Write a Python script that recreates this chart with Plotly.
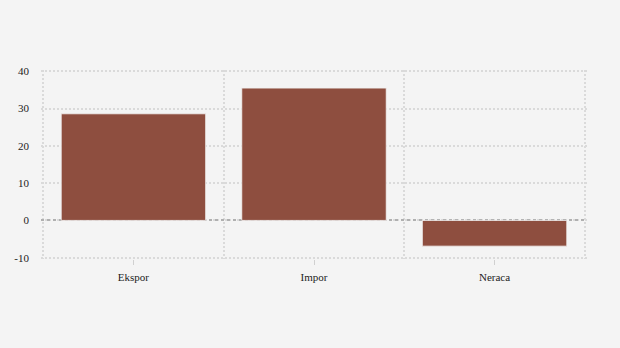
import plotly.graph_objects as go

categories = ["Ekspor", "Impor", "Neraca"]
values = [28.6, 35.5, -6.9]
y_ticks = [-10, 0, 10, 20, 30, 40]
y_tick_text = ["-10", "0", "10", "20", "30", "40"]

bar_color = "#8e4e3f"
grid_color = "#dadada"
font = dict(family="Liberation Serif", size=11, color="#222222")

fig = go.Figure()
fig.add_trace(go.Bar(
    x=categories, y=values,
    marker=dict(color=bar_color, line=dict(color="#f4f4f4", width=0.8)),
    width=0.8, showlegend=False, hoverinfo="x+y",
))
# helper trace for boundary gridlines and zero line axis
fig.add_trace(go.Scatter(
    x=categories, y=values, xaxis="x2", yaxis="y2", mode="markers",
    marker=dict(opacity=0), showlegend=False, hoverinfo="skip",
))

eps_x = 0.012
eps_y = 0.35
fig.update_layout(
    width=620, height=348,
    margin=dict(l=41, r=33, t=70, b=89),
    paper_bgcolor="#f4f4f4", plot_bgcolor="#f4f4f4",
    font=font,
    bargap=0.2,
    xaxis=dict(
        type="category", categoryorder="array", categoryarray=categories,
        range=[-0.5 - eps_x, 2.5 + eps_x], showgrid=False, zeroline=False,
        ticks="outside", ticklen=5, tickcolor="#d0d0d0", tickwidth=1,
        showline=False, ticklabelstandoff=3,
    ),
    xaxis2=dict(
        type="category", categoryorder="array", categoryarray=categories,
        range=[-0.5 - eps_x, 2.5 + eps_x], overlaying="x", matches="x",
        tickson="boundaries", showgrid=True, gridcolor=grid_color,
        griddash="2px,2px", gridwidth=1.5, showticklabels=False, ticks="",
        showline=False, zeroline=False,
    ),
    yaxis=dict(
        range=[-10 - eps_y, 40 + eps_y], tickvals=y_ticks, ticktext=y_tick_text,
        showgrid=True, gridcolor=grid_color, griddash="2px,2px", gridwidth=1.5,
        zeroline=False, showline=False, ticks="", ticklabelstandoff=11,
    ),
    yaxis2=dict(
        range=[-10 - eps_y, 40 + eps_y], overlaying="y", matches="y",
        tickvals=[0], showticklabels=False, showgrid=True,
        gridcolor="#b0b0b0", griddash="3px,3px", gridwidth=1.5,
        zeroline=False, showline=False, ticks="",
    ),
)
fig.write_html("out.html")
